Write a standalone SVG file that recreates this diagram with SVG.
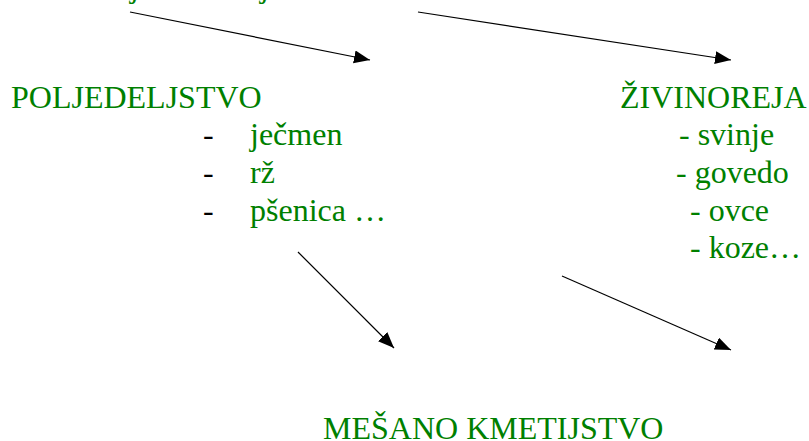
<svg xmlns="http://www.w3.org/2000/svg" width="809" height="441" viewBox="0 0 809 441">
<style>
text{font-family:"Liberation Serif","Times New Roman",serif;font-size:32px;fill:#008000}
.dash{fill:#000}
.conn line{stroke:#000;stroke-width:1.2;fill:none}
</style>
<defs>
<marker id="ah" markerUnits="userSpaceOnUse" markerWidth="17" markerHeight="14" refX="16" refY="6.5" orient="auto">
<path d="M0,0 L16,6.5 L0,13 z" fill="#000"/>
</marker>
</defs>
<rect width="809" height="441" fill="#fff"/>
<g id="title-fragment">
<text x="130" y="-3">j</text>
<text x="260" y="-3">j</text>
</g>
<g class="conn" id="connectors">
<line x1="130" y1="12" x2="370" y2="60" marker-end="url(#ah)"/>
<line x1="418" y1="12" x2="731" y2="60" marker-end="url(#ah)"/>
<line x1="298" y1="252" x2="394" y2="348" marker-end="url(#ah)"/>
<line x1="562" y1="276" x2="731" y2="350" marker-end="url(#ah)"/>
</g>
<g id="poljedeljstvo">
<text x="11" y="108">POLJEDELJSTVO</text>
<text class="dash" x="203" y="145">-</text>
<text x="250" y="145">ječmen</text>
<text class="dash" x="203" y="183">-</text>
<text x="250" y="183">rž</text>
<text class="dash" x="203" y="221">-</text>
<text x="250" y="221">pšenica …</text>
</g>
<g id="zivinoreja">
<text x="620" y="108">ŽIVINOREJA</text>
<text x="679" y="145">- svinje</text>
<text x="676" y="183">- govedo</text>
<text x="690" y="221">- ovce</text>
<text x="690" y="258">- koze…</text>
</g>
<g id="mesano">
<text x="323" y="439">MEŠANO KMETIJSTVO</text>
</g>
</svg>
